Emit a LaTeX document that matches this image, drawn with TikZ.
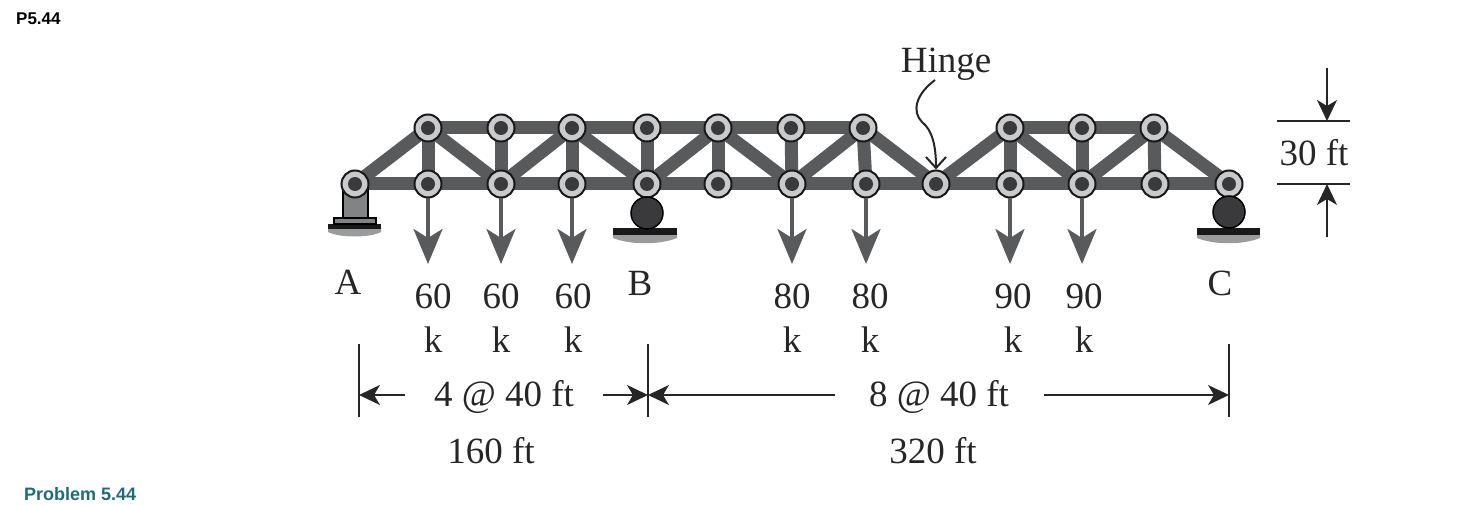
\documentclass[tikz,border=0pt]{standalone}
\usepackage{fontspec}
\setmainfont{Liberation Serif}
\newfontfamily\labelfont{Liberation Sans}
\usetikzlibrary{arrows.meta,backgrounds}
\definecolor{membergray}{HTML}{595A5C}
\definecolor{ringgray}{HTML}{C9CACB}
\definecolor{pingray}{HTML}{3A3A3C}
\definecolor{groundgray}{HTML}{9A9B9D}
\definecolor{probteal}{HTML}{1F6B7B}
\tikzset{
joint/.style={
  circle,
  draw=black!90,
  line width=2pt,
  fill=ringgray,
  minimum size=27pt,
  inner sep=0pt,
  path picture={\fill[pingray] (path picture bounding box.center) circle (7);}
  },
member/.style={draw=membergray, line width=13pt},
loadarrow/.style={draw=membergray, fill=membergray, line width=3.5pt,
  -{Stealth[length=35pt, width=29pt, inset=9pt]}},
dimarrow/.style={draw=black!85, line width=1.8pt,
  -{Stealth[length=21pt, width=20pt, inset=6pt]}},
dimline/.style={draw=black!85, line width=2pt},
txt/.style={font=\fontsize{37}{37}\selectfont, text=black!85, inner sep=0pt},
roller/.style={circle, draw=black, line width=1.5pt, fill=pingray, minimum size=32pt, inner sep=0pt}
}

\begin{document}
\begin{tikzpicture}[x=1pt, y=-1pt]
\useasboundingbox (0,0) rectangle (1465,505);

% joints
\foreach \name/\xpos in {t1/428,t2/501,t3/572,t4/647,t5/718,t6/791,t7/863,t8/1010,t9/1082,t10/1154}
  \node[joint] (\name) at (\xpos,128) {};
\foreach \name/\xpos in {a/355,b1/428,b2/501,b3/572,b4/647,b5/718,b6/792,b7/866,h/936,b9/1010,b10/1082,b11/1155,c/1229}
  \node[joint] (\name) at (\xpos,184) {};

% bars
\begin{scope}[on background layer]
\foreach \u/\v in {a/b1,b1/b2,b2/b3,b3/b4,b4/b5,b5/b6,b6/b7,b7/h,h/b9,b9/b10,b10/b11,b11/c,
  t1/t2,t2/t3,t3/t4,t4/t5,t5/t6,t6/t7,t8/t9,t9/t10,
  t1/b1,t2/b2,t3/b3,t4/b4,t5/b5,t6/b6,t7/b7,t8/b9,t9/b10,t10/b11,
  a/t1,t1/b2,b2/t3,t3/b4,b4/t5,t5/b6,b6/t7,t7/h,h/t8,t8/b10,b10/t10,t10/c}
  \draw[member] (\u.center) -- (\v.center);

% support at A
\fill[groundgray] (328,228) -- (381,228) -- (381,232) .. controls (370,238) and (340,238) .. (328,232) -- cycle;
\fill[black!90] (328,224) rectangle (381,229);
\draw[fill=membergray!75, line width=1.5pt] (334,218) rectangle (376,224);
\draw[fill=membergray!75, line width=1.5pt] (343,184) rectangle (368,218);
\end{scope}

% rollers
\node[roller] (rollb) at (647,213) {};
\node[roller] (rollc) at (1229,212) {};
\begin{scope}[on background layer]
\fill[groundgray] (613,234) -- (677,234) -- (677,238) .. controls (660,245) and (630,245) .. (613,238) -- cycle;
\fill[groundgray] (1197,234) -- (1260,234) -- (1260,238) .. controls (1243,245) and (1214,245) .. (1197,238) -- cycle;
\fill[black!90] (613,228) rectangle (677,235);
\fill[black!90] (1197,228) rectangle (1260,235);
\end{scope}

% loads
\foreach \name/\xpos/\lab/\xlab in {b1/428/60/433,b2/501/60/501,b3/572/60/573,b6/792/80/792,b7/866/80/870,b9/1010/90/1013,b10/1082/90/1084}{
  \coordinate (tip\name) at (\xpos,264);
  \draw[loadarrow] (\name.south) -- (tip\name);
  \node[txt] (lab\name) at (\xlab,296) {\lab};
  \node[txt] (k\name) at (\xlab,340) {k};
}

\node[txt] (labA) at (348,282) {A};
\node[txt] (labB) at (640,283) {B};
\node[txt] (labC) at (1220,283) {C};

% hinge
\node[txt] (hingelab) at (946,64) {Hinge};
\coordinate (hingetail) at (935,80);
\draw[line width=2pt, black!85, -{Straight Barb[length=11pt, width=20pt, line width=2pt]}]
  (hingetail) .. controls (915,95) and (912,112) .. (922,122)
  .. controls (932,130) and (936,145) .. (h.north);

% spans
\foreach \name/\xpos in {da/359,db/648,dc/1229}{
  \coordinate (\name top) at (\xpos,344);
  \coordinate (\name bot) at (\xpos,417);
  \coordinate (\name) at (\xpos,395);
  \draw[dimline] (\name top) -- (\name bot);
}
\node[txt] (spanone) at (504,397) {4 @ 40 ft};
\node[txt] (spantwo) at (939,397) {8 @ 40 ft};
\node[txt] (lenone) at (491,451) {160 ft};
\node[txt] (lentwo) at (933,451) {320 ft};
\coordinate (s1) at (405,395);
\coordinate (s2) at (603,395);
\coordinate (s3) at (835,395);
\coordinate (s4) at (1044,395);
\draw[dimarrow] (s1) -- (da);
\draw[dimarrow] (s2) -- (db);
\draw[dimarrow] (s3) -- (db);
\draw[dimarrow] (s4) -- (dc);

% depth
\coordinate (hl) at (1277,121);
\coordinate (hr) at (1350,121);
\coordinate (ll) at (1277,184);
\coordinate (lr) at (1350,184);
\coordinate (upstart) at (1327,68);
\coordinate (upend) at (1327,121);
\coordinate (lowstart) at (1327,237);
\coordinate (lowend) at (1327,184);
\draw[dimline] (hl) -- (hr);
\draw[dimline] (ll) -- (lr);
\draw[dimarrow] (upstart) -- (upend);
\draw[dimarrow] (lowstart) -- (lowend);
\node[txt] (depth) at (1314,153) {30 ft};

% captions
\node[font=\labelfont\bfseries\fontsize{17}{17}\selectfont, inner sep=0pt, anchor=west] (prob) at (16,19) {P5.44};
\node[font=\labelfont\bfseries\fontsize{18}{18}\selectfont, text=probteal, inner sep=0pt, anchor=west] (caption) at (24,494) {Problem 5.44};
\end{tikzpicture}
\end{document}
